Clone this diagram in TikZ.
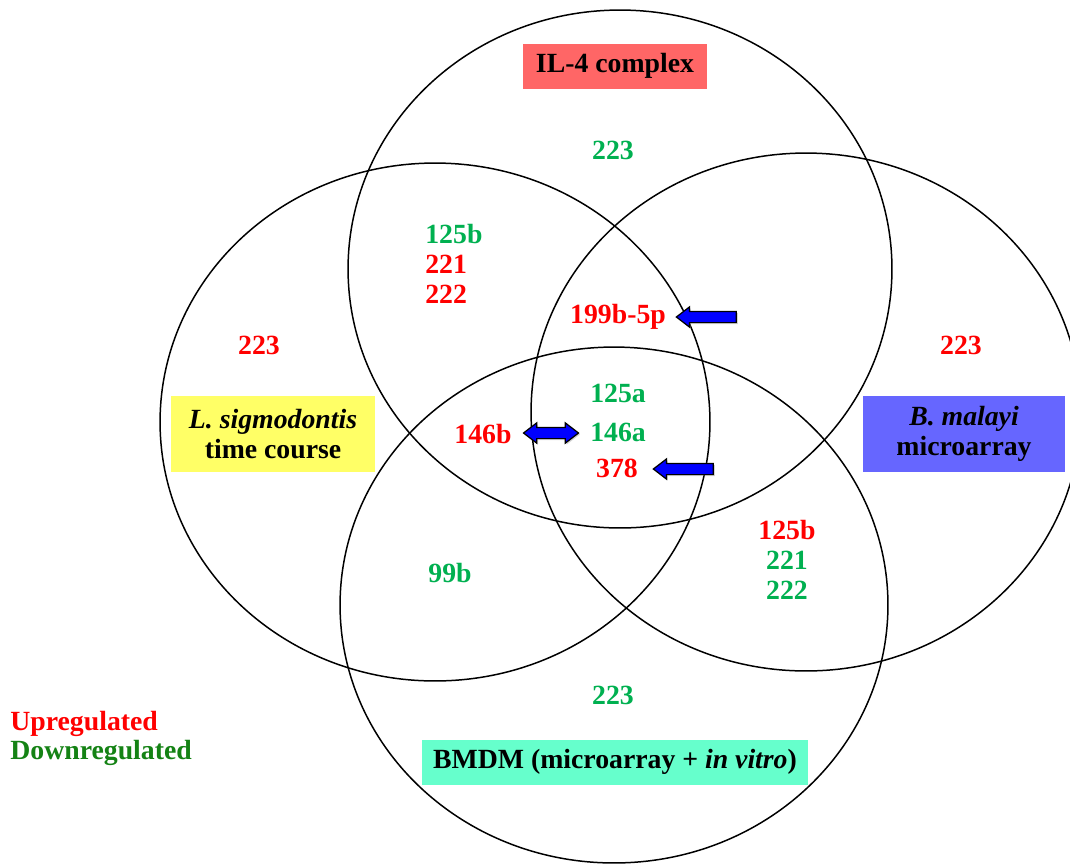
\documentclass[tikz,border=0pt]{standalone}
\usepackage{fontspec}
\setmainfont{Liberation Serif}
\usetikzlibrary{shapes.arrows,shadows}
\definecolor{upred}{RGB}{255,0,0}
\definecolor{downgreen}{RGB}{0,176,80}
\definecolor{legendgreen}{RGB}{20,130,20}
\definecolor{ilred}{RGB}{255,102,102}
\definecolor{lsyellow}{RGB}{255,255,102}
\definecolor{bmblue}{RGB}{102,102,255}
\definecolor{bmdmmint}{RGB}{102,255,204}
\definecolor{arrowblue}{RGB}{0,0,255}

\begin{document}
\begin{tikzpicture}[x=0.02cm,y=-0.02cm,
  every node/.style={font=\bfseries\fontsize{15.8}{17}\selectfont},
  up/.style={text=upred},
  dn/.style={text=downgreen},
  venn/.style={draw=black,line width=0.85pt},
  setbox/.style={inner sep=0pt,align=center,text=black},
  leftarr/.style={single arrow,draw=black,fill=arrowblue,line width=0.7pt,
             minimum height=1.2cm,inner sep=0.1cm,
             single arrow head extend=0.09cm,single arrow tip angle=75,
             shape border rotate=180,
             drop shadow={shadow xshift=0.8pt,shadow yshift=-0.8pt,opacity=0.35}},
  bothArr/.style={double arrow,draw=black,fill=arrowblue,line width=0.7pt,
             minimum height=1.1cm,inner sep=0.1cm,
             double arrow head extend=0.09cm,double arrow tip angle=75,
             drop shadow={shadow xshift=0.8pt,shadow yshift=-0.8pt,opacity=0.35}}]
  \clip (0,0) rectangle (1070,863);

  % the four sets
  \draw[venn] (620,269) ellipse [x radius=5.44cm, y radius=5.18cm];
  \draw[venn] (435,422) ellipse [x radius=5.5cm, y radius=5.18cm];
  \draw[venn] (806,412) ellipse [x radius=5.5cm, y radius=5.18cm];
  \draw[venn] (614,605) ellipse [x radius=5.48cm, y radius=5.16cm];

  % set names
  \node[setbox,fill=ilred,minimum width=3.68cm,minimum height=0.9cm](il4) at (615,66)
    {IL-4 complex};
  \node[setbox,fill=lsyellow,minimum width=4.08cm,minimum height=1.52cm](lsig) at (273,434)
    {\textit{L. sigmodontis}\\time course};
  \node[setbox,fill=bmblue,minimum width=4.04cm,minimum height=1.52cm](bmal) at (964,434)
    {\textit{B. malayi}\\microarray};
  \node[setbox,fill=bmdmmint,minimum width=7.72cm,minimum height=0.9cm](bmdm) at (615,762)
    {BMDM (microarray + \textit{in vitro})};

  % miRNAs
  \node[dn](iltop) at (613,150) {223};
  \node[up](lsleft) at (259,345) {223};
  \node[up](bmright) at (961,345) {223};
  \node[dn](bmdmlow) at (613,695) {223};
  \node[up,align=left,anchor=west,inner sep=0pt](ilsig) at (425,264)
    {\textcolor{downgreen}{125b}\\221\\222};
  \node[dn,align=center](bmbmdm) at (787,560)
    {\textcolor{upred}{125b}\\221\\222};
  \node[dn](sigbmdm) at (450,573) {99b};
  \node[up](m199) at (618,317) {199b-5p};
  \node[dn](m125a) at (618,393) {125a};
  \node[dn](m146a) at (618,432) {146a};
  \node[up](m378) at (617,468) {378};
  \node[up](m146b) at (483,434) {146b};

  % pointers
  \node[leftarr](arr199) at (710,317) {};
  \node[leftarr](arr378) at (687,469) {};
  \node[bothArr](arr146) at (551,433) {};

  % legend
  \node[up,anchor=west,inner sep=0pt](upleg) at (10,724) {Upregulated};
  \node[text=legendgreen,anchor=west,inner sep=0pt](dnleg) at (10,753) {Downregulated};
\end{tikzpicture}
\end{document}
